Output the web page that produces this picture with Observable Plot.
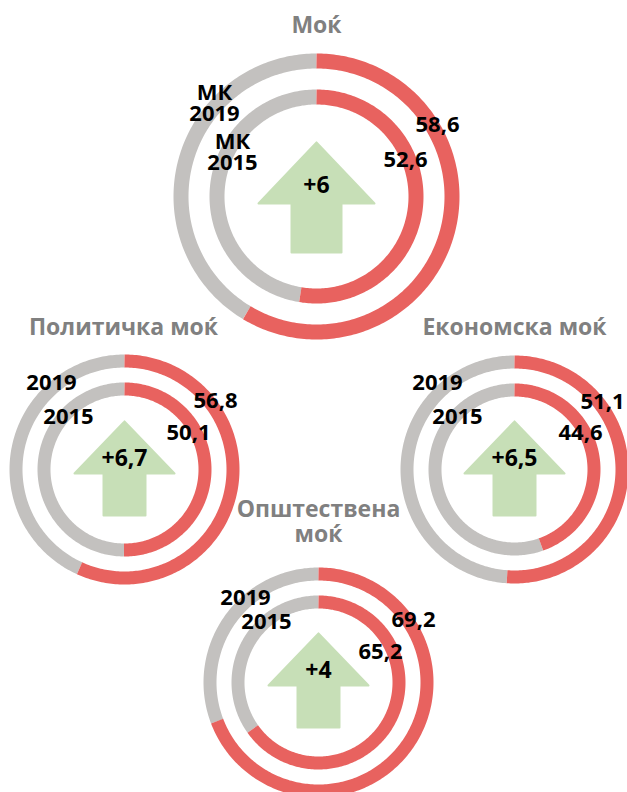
<!DOCTYPE html>
<html>
<head>
<meta charset="utf-8">
<script src="https://cdn.jsdelivr.net/npm/d3@7"></script>
<script src="https://cdn.jsdelivr.net/npm/@observablehq/plot@0.6"></script>
<style>
  html, body { margin: 0; padding: 0; background: #fff; }
  #chart svg { display: block; }
</style>
</head>
<body>
<div id="chart"></div>
<script>
// ---- data ----
const titles = ["Моќ", "Политичка моќ", "Економска моќ", "Општествена\nмоќ"];
const values2019 = [58.6, 56.8, 51.1, 69.2];
const values2015 = [52.6, 50.1, 44.6, 65.2];
const valueLabels2019 = ["58,6", "56,8", "51,1", "69,2"];
const valueLabels2015 = ["52,6", "50,1", "44,6", "65,2"];
const changeLabels = ["+6", "+6,7", "+6,5", "+4"];
const yearLabels2019 = ["МК\n2019", "2019", "2019", "2019"];
const yearLabels2015 = ["МК\n2015", "2015", "2015", "2015"];

// ---- layout (pixels) ----
const W = 627, H = 792;
const layout = [
  {cx: 316, cy: 196, r1: 143, r2: 107, w: 15, title: [316, 29],
   l19: [-102, -93], l15: [-84, -44], v19: [121, -71], v15: [89, -36],
   arrow: {tip: -54, base: 7, hw: 58, shw: 25, bottom: 56}, chg: [0, -11]},
  {cx: 124, cy: 469, r1: 115, r2: 87, w: 13, title: [123, 331],
   l19: [-73, -86], l15: [-56, -52], v19: [91, -68], v15: [64, -36],
   arrow: {tip: -48, base: 4, hw: 50, shw: 21, bottom: 46}, chg: [0, -11]},
  {cx: 514, cy: 469, r1: 114, r2: 86, w: 13, title: [514, 331],
   l19: [-77, -86], l15: [-57, -52], v19: [88, -67], v15: [66, -36],
   arrow: {tip: -48, base: 4, hw: 50, shw: 21, bottom: 46}, chg: [0, -11]},
  {cx: 318, cy: 682, r1: 115, r2: 87, w: 13, title: [318, 513],
   l19: [-73, -84], l15: [-52, -60], v19: [95, -62], v15: [62, -30],
   arrow: {tip: -49, base: 3, hw: 50, shw: 21, bottom: 45}, chg: [0, -12]}
];

const RED = "#e8625f", GRAY = "#c3c1bf", GREEN = "#c7dfb7", TITLE = "#808080";

// build arc points from values
function arcPoints(id, cx, cy, r, a0, a1) {
  const pts = [];
  const n = Math.max(2, Math.ceil(Math.abs(a1 - a0) / 1));
  for (let i = 0; i <= n; i++) {
    const a = (a0 + (a1 - a0) * i / n) * Math.PI / 180;
    pts.push({id, x: cx + r * Math.sin(a), y: cy - r * Math.cos(a)});
  }
  return pts;
}

const redArcs = [], grayArcs = [], arrows = [], texts = [];
titles.forEach((t, i) => {
  const L = layout[i];
  const rings = [[values2019[i], L.r1], [values2015[i], L.r2]];
  rings.forEach(([v, rOuter], k) => {
    const r = rOuter - L.w / 2;
    const a = v / 100 * 360;
    redArcs.push(...arcPoints(`r${i}-${k}`, L.cx, L.cy, r, 0, a));
    grayArcs.push(...arcPoints(`g${i}-${k}`, L.cx, L.cy, r, a, 360));
  });
  const A = L.arrow, cx = L.cx, cy = L.cy;
  [[0, A.tip], [A.hw, A.base], [A.shw, A.base], [A.shw, A.bottom],
   [-A.shw, A.bottom], [-A.shw, A.base], [-A.hw, A.base], [0, A.tip]]
    .forEach(([dx, dy]) => arrows.push({id: i, x: cx + dx, y: cy + dy}));

  texts.push({x: L.title[0], y: L.title[1], text: t, kind: "title"});
  texts.push({x: cx + L.l19[0], y: cy + L.l19[1], text: yearLabels2019[i], kind: "label"});
  texts.push({x: cx + L.l15[0], y: cy + L.l15[1], text: yearLabels2015[i], kind: "label"});
  texts.push({x: cx + L.v19[0], y: cy + L.v19[1], text: valueLabels2019[i], kind: "label"});
  texts.push({x: cx + L.v15[0], y: cy + L.v15[1], text: valueLabels2015[i], kind: "label"});
  texts.push({x: cx + L.chg[0], y: cy + L.chg[1], text: changeLabels[i], kind: "change"});
});

const font = "'Open Sans', 'Noto Sans', sans-serif";

const chart = Plot.plot({
  width: W,
  height: H,
  margin: 0,
  style: {background: "#fff", fontFamily: font},
  x: {domain: [0, W], range: [0, W], axis: null},
  y: {domain: [0, H], range: [0, H], axis: null},
  marks: [
    Plot.line(grayArcs, {x: "x", y: "y", z: "id", stroke: GRAY, strokeWidth: layout[0].w, strokeLinecap: "butt", filter: d => d.id.startsWith("g0")}),
    Plot.line(redArcs, {x: "x", y: "y", z: "id", stroke: RED, strokeWidth: layout[0].w, strokeLinecap: "butt", filter: d => d.id.startsWith("r0")}),
    Plot.line(grayArcs, {x: "x", y: "y", z: "id", stroke: GRAY, strokeWidth: layout[1].w, strokeLinecap: "butt", filter: d => !d.id.startsWith("g0")}),
    Plot.line(redArcs, {x: "x", y: "y", z: "id", stroke: RED, strokeWidth: layout[1].w, strokeLinecap: "butt", filter: d => !d.id.startsWith("r0")}),
    Plot.line(arrows, {x: "x", y: "y", z: "id", fill: GREEN, stroke: GREEN, strokeWidth: 2, strokeLinejoin: "round", curve: "linear"}),
    Plot.text(texts.filter(d => d.kind === "title"), {x: "x", y: "y", text: "text", fill: TITLE, fontSize: 23, fontWeight: "bold", lineHeight: 1.08, lineAnchor: "top", dy: -14}),
    Plot.text(texts.filter(d => d.kind === "label"), {x: "x", y: "y", text: "text", fill: "#000", fontSize: 22, fontWeight: "bold", lineHeight: 0.95}),
    Plot.text(texts.filter(d => d.kind === "change"), {x: "x", y: "y", text: "text", fill: "#000", fontSize: 23, fontWeight: "bold"})
  ]
});
document.getElementById("chart").appendChild(chart);
</script>
</body>
</html>
